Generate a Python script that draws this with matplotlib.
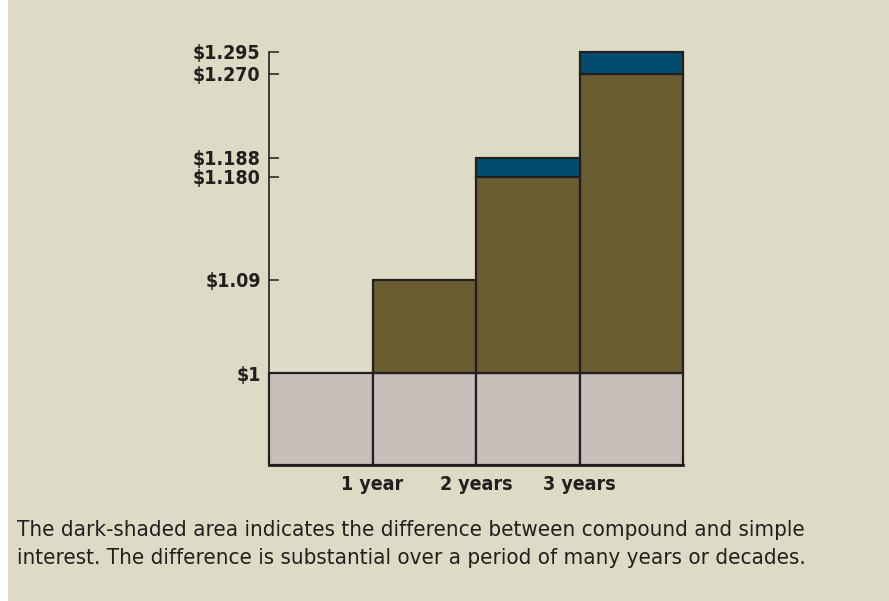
import numpy as np
import matplotlib
matplotlib.use("Agg")
import matplotlib.pyplot as plt
from matplotlib.patches import Rectangle

# data: $1 at 9% simple vs compound interest
periods = [0, 1, 2, 3]
principal = 1.0
simple = [1.00, 1.09, 1.18, 1.27]
compound = [1.00, 1.09, 1.188, 1.295]
xtick_pos = [1, 2, 3]
xtick_labels = ['1 year', '2 years', '3 years']
ytick_vals = [1.0, 1.09, 1.18, 1.188, 1.27, 1.295]
ytick_labels = [r'\$1', r'\$1.09', r'\$1.180', r'\$1.188', r'\$1.270', r'\$1.295']

# the original axis is illustrative, not linear -> piecewise warp
warp_vals = np.array([0.91, 1.0, 1.09, 1.18, 1.188, 1.27, 1.295])
warp_pos = np.array([0, 92, 185, 288.5, 307, 391, 413]) / 413.0

def fwd(v):
    return np.interp(v, warp_vals, warp_pos)

def inv(p):
    return np.interp(p, warp_pos, warp_vals)

bg = '#dddbc5'
olive = '#6a5d32'
blue = '#014c6d'
grey = '#c8bfbb'
ink = '#231f20'

plt.rcParams['font.family'] = ['DejaVu Sans']
plt.rcParams['font.stretch'] = 'condensed'

fig = plt.figure(figsize=(8.89, 6.01), dpi=100, facecolor='white')
fig.patches.append(Rectangle((8 / 889, 0), 1, 1, transform=fig.transFigure,
                             facecolor=bg, edgecolor='none', zorder=-10))

ax = fig.add_axes([269 / 889, 136 / 601, 414 / 889, 413 / 601])
ax.set_facecolor('none')
ax.set_yscale('function', functions=(fwd, inv))
ax.set_xlim(0, 4)
ax.set_ylim(0.91, 1.295)

base = 0.91
simple = np.array(simple)
compound = np.array(compound)

# principal
ax.bar(periods, [principal - base] * 4, bottom=base, width=1, align='edge',
       color=grey, edgecolor=ink, linewidth=1.6, clip_on=False, zorder=2)
# simple interest
m = simple > principal
ax.bar(np.array(periods)[m], simple[m] - principal, bottom=principal, width=1,
       align='edge', color=olive, edgecolor=ink, linewidth=1.6, clip_on=False, zorder=2)
# extra from compounding
m2 = compound > simple
ax.bar(np.array(periods)[m2], compound[m2] - simple[m2], bottom=simple[m2], width=1,
       align='edge', color=blue, edgecolor=ink, linewidth=1.6, clip_on=False, zorder=2)

for s in ['top', 'right']:
    ax.spines[s].set_visible(False)
ax.spines['left'].set_linewidth(1.2)
ax.spines['left'].set_color(ink)
ax.spines['bottom'].set_linewidth(2)
ax.spines['bottom'].set_color(ink)

ax.set_yticks(ytick_vals)
ax.set_yticklabels(ytick_labels)
ax.yaxis.set_minor_locator(matplotlib.ticker.NullLocator())
ax.tick_params(axis='y', direction='in', length=7.5, width=1.1, color=ink, pad=6,
               labelsize=14, labelcolor=ink)
ax.set_xticks(xtick_pos)
ax.set_xticklabels(xtick_labels)
ax.tick_params(axis='x', length=0, pad=7, labelsize=14, labelcolor=ink)
for lab in ax.get_xticklabels() + ax.get_yticklabels():
    lab.set_fontweight('bold')

fig.text(17 / 889, 1 - 536 / 601,
         'The dark-shaded area indicates the difference between compound and simple',
         fontsize=16, color=ink, va='baseline')
fig.text(17 / 889, 1 - 564 / 601,
         'interest. The difference is substantial over a period of many years or decades.',
         fontsize=16, color=ink, va='baseline')

fig.savefig('out.png', dpi=100, facecolor=fig.get_facecolor())
